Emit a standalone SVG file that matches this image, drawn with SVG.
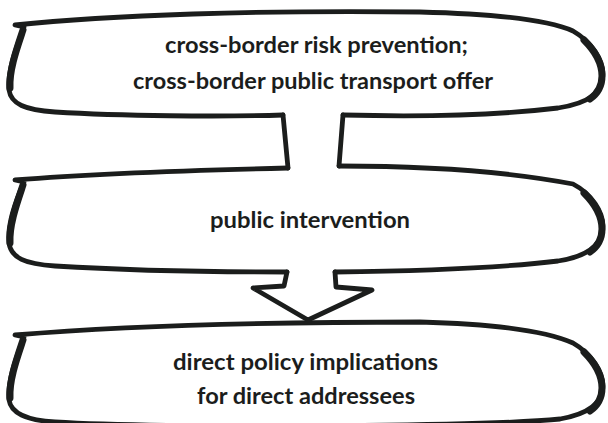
<svg xmlns="http://www.w3.org/2000/svg" width="608" height="423" viewBox="0 0 608 423">
<style>
.edge{fill:none;stroke:#1b1d1c;stroke-width:4.8;stroke-linecap:round;stroke-linejoin:round}
.side{fill:none;stroke:#1b1d1c;stroke-width:7;stroke-linecap:round;stroke-linejoin:round}
.lbl{font-family:Lato,"Open Sans","Liberation Sans",sans-serif;font-weight:bold;font-size:23px;fill:#1b1d1c;text-anchor:middle}
</style>
<rect width="608" height="423" fill="#ffffff"/>
<g id="node-risk">
<path class="edge" d="M 283,115 C 220,117 120,116 55,112 C 25,110 11,104 9,90 C 7,72 16,48 24,27 L 15,25 C 110,15 260,10 420,12 C 500,14 548,20 573,31 C 592,42 603,60 603,74 C 603,92 590,103 558,108 C 500,115 420,117 343,115"/>
<path class="side" d="M 23,30 C 17,48 9,70 10,88"/>
<path class="side" d="M 584,40 C 596,52 602,64 602,76 C 602,86 597,94 590,99"/>
<text class="lbl" x="316.5" y="53" textLength="303" lengthAdjust="spacingAndGlyphs">cross-border risk prevention;</text>
<text class="lbl" x="313" y="89" textLength="360" lengthAdjust="spacingAndGlyphs">cross-border public transport offer</text>
</g>
<g id="node-intervention">
<path class="edge" d="M 288,168 C 200,170 100,173 15,180 L 24,182 C 16,200 7,225 9,243 C 11,258 25,264 55,266 C 120,270 220,272 287,272 M 339,166 C 420,166 500,170 573,184 C 592,194 603,212 603,226 C 603,244 590,256 558,261 C 500,268 420,271 335,272"/>
<path class="side" d="M 23,185 C 17,203 9,225 10,243"/>
<path class="side" d="M 584,193 C 596,205 602,217 602,229 C 602,239 597,247 590,252"/>
<text class="lbl" x="310" y="228" textLength="200" lengthAdjust="spacingAndGlyphs">public intervention</text>
</g>
<g id="node-implications">
<path class="edge" d="M 15,335 C 110,327 260,322 420,322 C 500,324 548,332 573,343 C 592,354 603,372 603,386 C 603,404 588,414 560,419 C 480,427 150,428 55,422 C 25,420 11,413 9,400 C 7,382 16,358 24,337 Z"/>
<path class="side" d="M 23,340 C 17,358 9,380 10,398"/>
<path class="side" d="M 584,352 C 596,364 602,376 602,388 C 602,398 597,406 590,411"/>
<text class="lbl" x="305.5" y="370" textLength="265" lengthAdjust="spacingAndGlyphs">direct policy implications</text>
<text class="lbl" x="306" y="404" textLength="218" lengthAdjust="spacingAndGlyphs">for direct addressees</text>
</g>
<g id="connectors">
<path class="edge" d="M 283,115 L 288,168 M 343,115 L 339,166"/>
<path class="edge" d="M 287,272 L 284,286 L 253,288 L 308,320 L 372,290 L 336,287 L 335,272"/>
</g>
</svg>
